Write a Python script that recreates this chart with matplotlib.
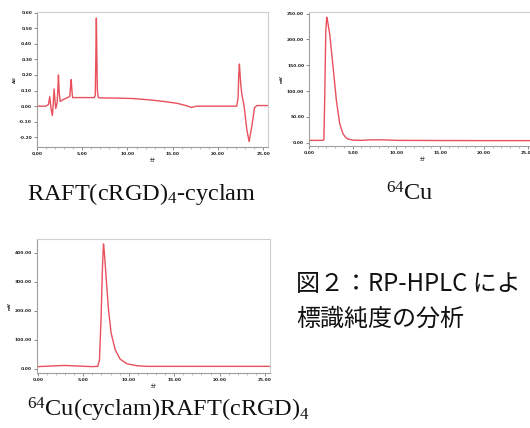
import matplotlib
matplotlib.use("Agg")
import matplotlib.pyplot as plt
from matplotlib.ticker import MultipleLocator, FormatStrFormatter

plt.rcParams['mathtext.fontset'] = 'custom'
plt.rcParams['mathtext.rm'] = 'Liberation Serif'
plt.rcParams['mathtext.it'] = 'Liberation Serif:italic'
plt.rcParams['mathtext.bf'] = 'Liberation Serif:bold'

# ---------------- data ----------------
# Panel 1: RAFT(cRGD)4-cyclam (UV, AU)
t_raft = [0, 0.96, 1.26, 1.41, 1.56, 1.70, 1.80, 1.89, 2.00, 2.07, 2.22, 2.30, 2.37,
          2.45, 2.56, 2.81, 3.19, 3.55, 3.63, 3.70, 3.78, 3.86, 3.93, 5.0, 6.33, 6.44,
          6.50, 6.56, 6.62, 6.67, 6.78, 6.89, 8.5, 10.59, 12.5, 14.3, 15.5, 16.52, 17.07,
          17.63, 20.0, 22.07, 22.22, 22.30, 22.37, 22.45, 22.52, 22.63, 22.89, 23.19,
          23.44, 23.74, 24.04, 24.3, 25.6]
y_raft = [0, 0, 0.01, 0.06, -0.02, -0.06, 0.02, 0.11, 0.03, -0.015, 0.02, 0.10, 0.20,
          0.09, 0.03, 0.04, 0.05, 0.06, 0.065, 0.12, 0.17, 0.10, 0.055, 0.055, 0.055, 0.07,
          0.30, 0.565, 0.30, 0.10, 0.055, 0.053, 0.052, 0.049, 0.040, 0.028, 0.018, 0.003,
          -0.008, 0.0, 0.0, 0.0, 0.05, 0.20, 0.27, 0.20, 0.14, 0.08, 0.0, -0.15,
          -0.227, -0.13, -0.01, 0.004, 0.004]

# Panel 2: 64Cu (radio, mV)
t_cu = [0, 1.60, 1.70, 1.80, 1.92, 2.02, 2.10, 2.37, 2.75, 3.13, 3.51, 3.89, 4.2, 4.47,
        5.0, 6.0, 7.0, 8.5, 10, 15, 20, 25.9]
y_cu = [4.5, 4.5, 6, 90, 215, 243, 238, 210, 147, 82, 37, 17, 10, 7,
        5, 4.5, 5.5, 5.5, 4.5, 4.2, 4.0, 4.0]

# Panel 3: 64Cu(cyclam)RAFT(cRGD)4 (radio, mV)
t_cplx = [0, 2.0, 3.0, 4.5, 6.0, 6.6, 6.78, 6.96, 7.11, 7.22, 7.32, 7.5, 7.77, 8.06,
          8.5, 9.05, 9.79, 10.89, 12, 16, 20, 25.6]
y_cplx = [7, 10, 11, 9, 7, 8, 31, 181, 354, 431, 400, 319, 204, 123,
          66, 33, 17, 10, 8, 8, 8, 8]

x_ticks = [0, 5, 10, 15, 20, 25]
y_ticks_raft = [-0.2, -0.1, 0.0, 0.1, 0.2, 0.3, 0.4, 0.5, 0.6]
y_ticks_cu = [0, 50, 100, 150, 200, 250]
y_ticks_cplx = [0, 100, 200, 300, 400]

cap_raft = r"RAFT(cRGD)$_4$-cyclam"
cap_cu = r"$^{64}$Cu"
cap_cplx = r"$^{64}$Cu(cyclam)RAFT(cRGD)$_4$"
fig_title = ["図２：RP-HPLC によ", "標識純度の分析"]

# ---------------- figure ----------------
W, H = 530, 428
fig = plt.figure(figsize=(W / 100, H / 100), dpi=100)
fig.patch.set_facecolor('white')

LINE = '#e8505c'


def add_axes_px(l, t, r, b):
    return fig.add_axes([l / W, 1 - b / H, (r - l) / W, (b - t) / H])


def style(ax, yt, fmt, ylab, ylim, xlim):
    ax.set_xlim(*xlim)
    ax.set_ylim(*ylim)
    ax.set_xticks(x_ticks)
    ax.set_yticks(yt)
    ax.xaxis.set_minor_locator(MultipleLocator(1))
    ax.xaxis.set_major_formatter(FormatStrFormatter('%.2f'))
    ax.yaxis.set_major_formatter(FormatStrFormatter(fmt))
    for s in ['top', 'right']:
        ax.spines[s].set_color('#d0d0d0')
        ax.spines[s].set_linewidth(0.8)
    for s in ['left', 'bottom']:
        ax.spines[s].set_color('#a0a0a0')
        ax.spines[s].set_linewidth(0.8)
    ax.tick_params(which='major', length=2, width=0.6, color='#777777',
                   labelsize=3.2, pad=1.5, labelcolor='#222222')
    ax.tick_params(which='minor', length=1.2, width=0.5, color='#999999')
    for lab in ax.get_xticklabels() + ax.get_yticklabels():
        lab.set_fontweight('bold')
    ax.set_ylabel(ylab, fontsize=3.2, fontweight='bold', labelpad=2, color='#222222')
    ax.set_xlabel('分', fontsize=3.5, labelpad=1.5, color='#222222',
                  family=['Noto Sans CJK JP', 'DejaVu Sans'])


ax1 = add_axes_px(37, 12, 268, 147)
ax1.plot(t_raft, y_raft, color=LINE, lw=1.0)
style(ax1, y_ticks_raft, '%.2f', 'AU', (-0.262, 0.604), (0, 25.53))

ax2 = add_axes_px(309, 12, 536, 146)
ax2.plot(t_cu, y_cu, color=LINE, lw=1.0)
style(ax2, y_ticks_cu, '%.2f', 'mV', (-6.4, 253), (0, 25.95))

ax3 = add_axes_px(37, 239, 270, 373)
ax3.plot(t_cplx, y_cplx, color=LINE, lw=1.0)
style(ax3, y_ticks_cplx, '%.2f', 'mV', (-15, 448), (-0.1, 25.55))

# captions
fig.text(27 / W, 1 - 200 / H, cap_raft, fontsize=17.5, family='Liberation Serif',
         va='baseline', ha='left', color='#111111')
fig.text(386 / W, 1 - 200 / H, cap_cu, fontsize=17.5, family='Liberation Serif',
         va='baseline', ha='left', color='#111111')
fig.text(27 / W, 1 - 416 / H, cap_cplx, fontsize=17.5, family='Liberation Serif',
         va='baseline', ha='left', color='#111111')

fig.text(296 / W, 1 - 284 / H, fig_title[0], fontsize=17.3,
         family=['Noto Sans CJK JP', 'DejaVu Sans'], va='center', ha='left', color='#111111')
fig.text(296 / W, 1 - 319 / H, fig_title[1], fontsize=17.3,
         family=['Noto Sans CJK JP', 'DejaVu Sans'], va='center', ha='left', color='#111111')

fig.savefig('out.png', dpi=100, facecolor='white')
